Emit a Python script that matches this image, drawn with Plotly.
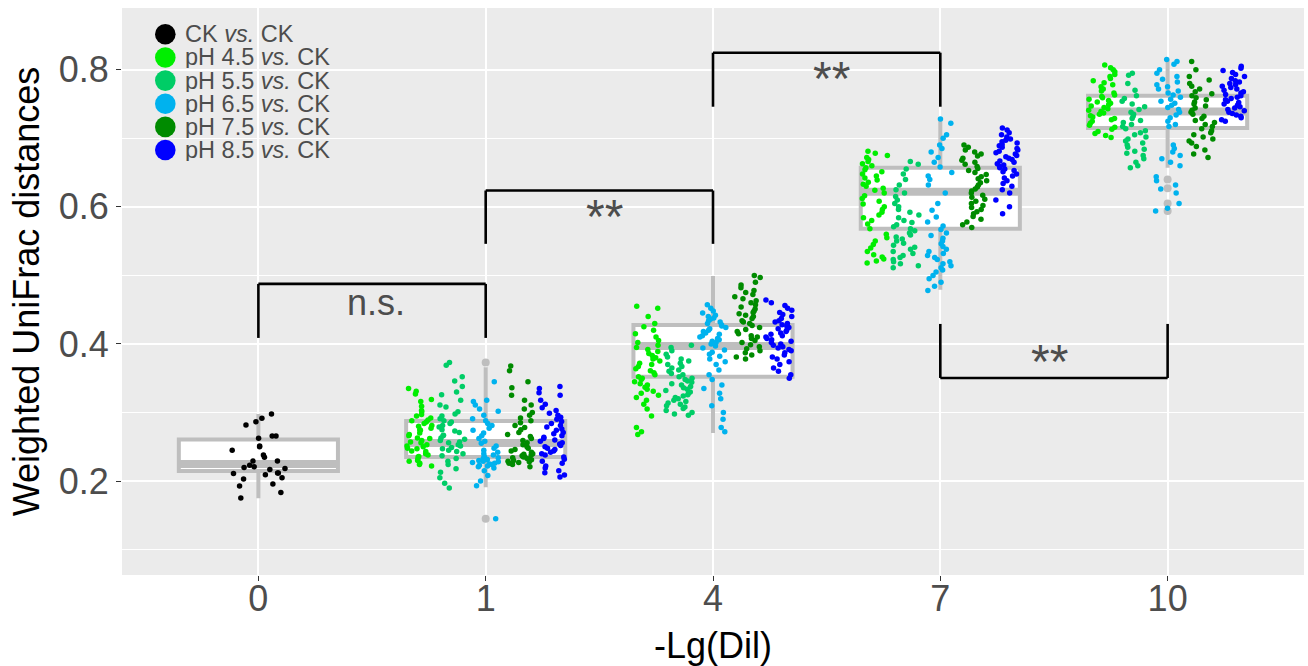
import math
import plotly.graph_objects as go

# ---------------- data ----------------
categories = ["0", "1", "4", "7", "10"]
series_names = ["CK", "pH 4.5", "pH 5.5", "pH 6.5", "pH 7.5", "pH 8.5"]
legend_labels = ["CK <i>vs.</i> CK", "pH 4.5 <i>vs.</i> CK", "pH 5.5 <i>vs.</i> CK",
                 "pH 6.5 <i>vs.</i> CK", "pH 7.5 <i>vs.</i> CK", "pH 8.5 <i>vs.</i> CK"]
colors = ["#000000", "#00EE00", "#00CD66", "#00B2EE", "#008B00", "#0000FF"]
x_title = "-Lg(Dil)"
y_title = "Weighted UniFrac distances"

# CK vs CK at dilution 0
ck_d0 = [0.298, 0.2915, 0.2866, 0.2818, 0.2657, 0.2657, 0.2623, 0.2511, 0.2501, 0.2448,
         0.238, 0.2346, 0.2292, 0.2292, 0.2229, 0.2209, 0.2199, 0.2185, 0.217, 0.2117,
         0.2117, 0.2112, 0.2093, 0.2049, 0.2029, 0.1956, 0.1927, 0.1834, 0.1752]

# dilution 1
ph45_d1 = [0.335, 0.331, 0.327, 0.319, 0.316, 0.309, 0.303, 0.301, 0.297, 0.295, 0.292, 0.289,
           0.288, 0.286, 0.284, 0.281, 0.280, 0.277, 0.275, 0.274, 0.270, 0.268, 0.266, 0.263,
           0.262, 0.259, 0.257, 0.256, 0.253, 0.251, 0.250, 0.248, 0.247, 0.244, 0.243, 0.240,
           0.238, 0.236, 0.235, 0.232, 0.230, 0.229, 0.226, 0.224, 0.222]
ph55_d1 = [0.373, 0.369, 0.352, 0.346, 0.338, 0.330, 0.326, 0.318, 0.311, 0.308, 0.301, 0.298,
           0.295, 0.291, 0.288, 0.286, 0.284, 0.281, 0.279, 0.275, 0.273, 0.271, 0.267, 0.266,
           0.263, 0.261, 0.259, 0.257, 0.256, 0.253, 0.251, 0.249, 0.247, 0.245, 0.243, 0.240,
           0.237, 0.233, 0.229, 0.224, 0.218, 0.213, 0.205, 0.197, 0.190]
ph65_d1 = [0.345, 0.318, 0.316, 0.311, 0.305, 0.302, 0.296, 0.291, 0.288, 0.284, 0.281, 0.277,
           0.274, 0.270, 0.266, 0.262, 0.258, 0.255, 0.251, 0.248, 0.245, 0.242, 0.240, 0.238,
           0.236, 0.234, 0.233, 0.232, 0.231, 0.230, 0.229, 0.228, 0.227, 0.226, 0.225, 0.224,
           0.223, 0.222, 0.221, 0.219, 0.215, 0.208, 0.200, 0.193, 0.145]
ph75_d1 = [0.368, 0.361, 0.345, 0.336, 0.325, 0.318, 0.311, 0.305, 0.300, 0.296, 0.292, 0.288,
           0.285, 0.281, 0.278, 0.275, 0.271, 0.268, 0.265, 0.262, 0.259, 0.256, 0.253, 0.250,
           0.248, 0.246, 0.244, 0.242, 0.240, 0.239, 0.238, 0.237, 0.236, 0.235, 0.234, 0.233,
           0.232, 0.231, 0.230, 0.229, 0.228, 0.227, 0.226, 0.224, 0.221]
ph85_d1 = [0.338, 0.335, 0.329, 0.325, 0.318, 0.312, 0.307, 0.303, 0.299, 0.296, 0.293, 0.290,
           0.287, 0.284, 0.281, 0.279, 0.276, 0.274, 0.271, 0.269, 0.266, 0.264, 0.262, 0.260,
           0.258, 0.256, 0.254, 0.252, 0.250, 0.248, 0.246, 0.244, 0.242, 0.240, 0.238, 0.235,
           0.232, 0.229, 0.226, 0.222, 0.219, 0.215, 0.212, 0.209, 0.206]

# dilution 4
ph45_d4 = [0.455, 0.452, 0.440, 0.430, 0.425, 0.420, 0.415, 0.410, 0.405, 0.402, 0.398, 0.395,
           0.392, 0.389, 0.386, 0.383, 0.380, 0.378, 0.375, 0.372, 0.370, 0.367, 0.364, 0.361,
           0.358, 0.355, 0.352, 0.350, 0.348, 0.345, 0.342, 0.340, 0.337, 0.334, 0.331, 0.328,
           0.325, 0.322, 0.318, 0.312, 0.305, 0.295, 0.278, 0.272, 0.268]
ph55_d4 = [0.398, 0.395, 0.390, 0.385, 0.381, 0.378, 0.375, 0.372, 0.370, 0.367, 0.365, 0.362,
           0.360, 0.357, 0.355, 0.352, 0.350, 0.348, 0.346, 0.344, 0.342, 0.340, 0.338, 0.336,
           0.334, 0.332, 0.330, 0.328, 0.326, 0.324, 0.322, 0.320, 0.318, 0.316, 0.314, 0.312,
           0.310, 0.308, 0.306, 0.303, 0.300, 0.298, 0.296]
ph65_d4 = [0.457, 0.452, 0.448, 0.445, 0.442, 0.440, 0.438, 0.436, 0.434, 0.432, 0.430, 0.428,
           0.426, 0.424, 0.422, 0.420, 0.418, 0.416, 0.414, 0.412, 0.410, 0.408, 0.406, 0.404,
           0.402, 0.400, 0.397, 0.394, 0.391, 0.388, 0.385, 0.382, 0.378, 0.374, 0.370, 0.362,
           0.355, 0.348, 0.340, 0.335, 0.328, 0.320, 0.310, 0.300, 0.290, 0.278, 0.272]
ph75_d4 = [0.500, 0.497, 0.490, 0.486, 0.482, 0.478, 0.475, 0.472, 0.469, 0.466, 0.463, 0.460,
           0.457, 0.454, 0.451, 0.448, 0.446, 0.444, 0.442, 0.440, 0.437, 0.434, 0.432, 0.430,
           0.427, 0.424, 0.421, 0.418, 0.415, 0.412, 0.410, 0.408, 0.405, 0.402, 0.399, 0.396,
           0.393, 0.390, 0.387, 0.384, 0.381, 0.378]
ph85_d4 = [0.464, 0.460, 0.456, 0.452, 0.449, 0.446, 0.443, 0.440, 0.437, 0.434, 0.432, 0.430,
           0.428, 0.426, 0.424, 0.422, 0.420, 0.418, 0.416, 0.414, 0.412, 0.410, 0.408, 0.406,
           0.404, 0.402, 0.400, 0.398, 0.396, 0.394, 0.392, 0.390, 0.387, 0.384, 0.381, 0.378,
           0.374, 0.370, 0.365, 0.360, 0.355, 0.350]

# dilution 7
ph45_d7 = [0.681, 0.678, 0.675, 0.672, 0.669, 0.666, 0.663, 0.660, 0.657, 0.654, 0.651, 0.648,
           0.645, 0.642, 0.639, 0.636, 0.633, 0.630, 0.627, 0.624, 0.620, 0.616, 0.612, 0.608,
           0.604, 0.600, 0.596, 0.592, 0.588, 0.584, 0.580, 0.575, 0.568, 0.560, 0.555, 0.550,
           0.545, 0.540, 0.535, 0.530, 0.527, 0.524, 0.521, 0.518]
ph55_d7 = [0.666, 0.662, 0.655, 0.648, 0.640, 0.632, 0.625, 0.620, 0.615, 0.610, 0.605, 0.600,
           0.596, 0.592, 0.588, 0.584, 0.580, 0.577, 0.574, 0.571, 0.568, 0.565, 0.562, 0.559,
           0.556, 0.553, 0.550, 0.547, 0.544, 0.541, 0.538, 0.535, 0.532, 0.529, 0.526, 0.523,
           0.520, 0.517, 0.514, 0.511]
ph65_d7 = [0.728, 0.722, 0.705, 0.700, 0.690, 0.685, 0.680, 0.672, 0.665, 0.658, 0.650, 0.645,
           0.640, 0.632, 0.620, 0.605, 0.595, 0.585, 0.578, 0.572, 0.567, 0.562, 0.558, 0.554,
           0.550, 0.546, 0.542, 0.538, 0.535, 0.532, 0.529, 0.526, 0.523, 0.520, 0.517, 0.514,
           0.511, 0.508, 0.505, 0.500, 0.495, 0.490, 0.484, 0.478]
ph75_d7 = [0.690, 0.687, 0.683, 0.680, 0.677, 0.674, 0.671, 0.668, 0.665, 0.662, 0.659, 0.656,
           0.653, 0.650, 0.647, 0.644, 0.641, 0.638, 0.635, 0.632, 0.629, 0.626, 0.623, 0.620,
           0.617, 0.614, 0.611, 0.608, 0.605, 0.602, 0.599, 0.596, 0.593, 0.590, 0.586, 0.582,
           0.578, 0.574, 0.570]
ph85_d7 = [0.715, 0.712, 0.708, 0.705, 0.702, 0.699, 0.697, 0.695, 0.693, 0.691, 0.689, 0.687,
           0.685, 0.683, 0.681, 0.679, 0.677, 0.675, 0.673, 0.671, 0.669, 0.667, 0.665, 0.663,
           0.661, 0.659, 0.657, 0.655, 0.653, 0.651, 0.648, 0.645, 0.642, 0.638, 0.634, 0.630,
           0.625, 0.620, 0.610, 0.600, 0.590]

# dilution 10
ph45_d10 = [0.807, 0.803, 0.800, 0.797, 0.793, 0.790, 0.787, 0.784, 0.781, 0.778, 0.775, 0.772,
            0.769, 0.766, 0.763, 0.761, 0.759, 0.757, 0.755, 0.753, 0.751, 0.749, 0.747, 0.745,
            0.743, 0.741, 0.739, 0.737, 0.735, 0.733, 0.731, 0.729, 0.727, 0.725, 0.722, 0.719,
            0.716, 0.713, 0.710, 0.707, 0.704, 0.701]
ph55_d10 = [0.795, 0.792, 0.780, 0.770, 0.762, 0.758, 0.754, 0.750, 0.746, 0.742, 0.738, 0.735,
            0.732, 0.729, 0.726, 0.723, 0.720, 0.717, 0.714, 0.711, 0.708, 0.705, 0.702, 0.699,
            0.696, 0.693, 0.690, 0.687, 0.684, 0.681, 0.678, 0.675, 0.670, 0.665, 0.660, 0.657]
ph65_d10 = [0.815, 0.812, 0.808, 0.800, 0.795, 0.790, 0.786, 0.782, 0.778, 0.775, 0.772, 0.769,
            0.766, 0.763, 0.760, 0.757, 0.754, 0.751, 0.748, 0.745, 0.742, 0.738, 0.734, 0.730,
            0.725, 0.720, 0.717, 0.690, 0.685, 0.680, 0.675, 0.670, 0.665, 0.660, 0.644, 0.638,
            0.632, 0.626, 0.620, 0.605, 0.598, 0.594]
ph75_d10 = [0.812, 0.800, 0.790, 0.785, 0.780, 0.776, 0.772, 0.768, 0.765, 0.762, 0.759, 0.756,
            0.753, 0.750, 0.747, 0.744, 0.741, 0.738, 0.735, 0.732, 0.729, 0.726, 0.723, 0.720,
            0.717, 0.714, 0.711, 0.708, 0.705, 0.702, 0.699, 0.696, 0.693, 0.688, 0.683, 0.677,
            0.672]
ph85_d10 = [0.805, 0.802, 0.799, 0.796, 0.793, 0.790, 0.787, 0.784, 0.782, 0.780, 0.778, 0.776,
            0.774, 0.772, 0.770, 0.768, 0.766, 0.764, 0.762, 0.760, 0.758, 0.756, 0.754, 0.752,
            0.750, 0.748, 0.746, 0.744, 0.742, 0.740, 0.738, 0.736, 0.734, 0.732, 0.730, 0.727,
            0.725]

# box statistics per dilution (all comparisons pooled)
box_q1 = [0.2146, 0.235, 0.352, 0.568, 0.715]
box_median = [0.2248, 0.2555, 0.397, 0.622, 0.739]
box_q3 = [0.2608, 0.2876, 0.4277, 0.657, 0.762]
box_lower = [0.175, 0.191, 0.270, 0.479, 0.657]
box_upper = [0.2978, 0.366, 0.499, 0.730, 0.815]
outlier_cat = ["1", "1", "10", "10", "10", "10"]
outlier_y = [0.373, 0.145, 0.640, 0.627, 0.605, 0.594]

# significance comparisons
sig_from = ["0", "1", "4", "7"]
sig_to = ["1", "4", "7", "10"]
sig_bar = [0.4876, 0.6238, 0.8248, 0.3504]
sig_leg_end = [0.4088, 0.546, 0.746, 0.4292]
sig_labels = ["n.s.", "**", "**", "**"]

# ---------------- assembly ----------------
series_by_cat = {
    "0": {"CK": ck_d0},
    "1": {"pH 4.5": ph45_d1, "pH 5.5": ph55_d1, "pH 6.5": ph65_d1, "pH 7.5": ph75_d1, "pH 8.5": ph85_d1},
    "4": {"pH 4.5": ph45_d4, "pH 5.5": ph55_d4, "pH 6.5": ph65_d4, "pH 7.5": ph75_d4, "pH 8.5": ph85_d4},
    "7": {"pH 4.5": ph45_d7, "pH 5.5": ph55_d7, "pH 6.5": ph65_d7, "pH 7.5": ph75_d7, "pH 8.5": ph85_d7},
    "10": {"pH 4.5": ph45_d10, "pH 5.5": ph55_d10, "pH 6.5": ph65_d10, "pH 7.5": ph75_d10, "pH 8.5": ph85_d10},
}

pos = {c: i + 1 for i, c in enumerate(categories)}
dodge = {"CK": 0.0, "pH 4.5": -0.29, "pH 5.5": -0.15, "pH 6.5": 0.0, "pH 7.5": 0.15, "pH 8.5": 0.29}
jit_width = {"CK": 0.12}
color_of = dict(zip(series_names, colors))


def jitter(n, width, salt):
    out = []
    for i in range(n):
        v = math.sin((i + 1) * 12.9898 + salt * 78.233) * 43758.5453
        out.append((v - math.floor(v) - 0.5) * 2 * width)
    return out


BOX_GREY = "#BEBEBE"
FONT = "Liberation Sans, Arial, sans-serif"

fig = go.Figure()

xs = [pos[c] for c in categories]
fig.add_trace(go.Box(
    x=xs, q1=box_q1, median=box_median, q3=box_q3,
    lowerfence=box_lower, upperfence=box_upper,
    width=0.7, whiskerwidth=0, fillcolor="white",
    line=dict(color=BOX_GREY, width=4), boxpoints=False,
    showlegend=False, hoverinfo="skip"))

# thicker median bars (ggplot style)
mx, my = [], []
for x, m in zip(xs, box_median):
    mx += [x - 0.35, x + 0.35, None]
    my += [m, m, None]
fig.add_trace(go.Scatter(x=mx, y=my, mode="lines", line=dict(color=BOX_GREY, width=8),
                         showlegend=False, hoverinfo="skip"))

fig.add_trace(go.Scatter(x=[pos[c] for c in outlier_cat], y=outlier_y, mode="markers",
                         marker=dict(color=BOX_GREY, size=8), showlegend=False, hoverinfo="skip"))

salt = 0
for c in categories:
    for s, vals in series_by_cat[c].items():
        salt += 1
        jw = jit_width.get(s, 0.058)
        offs = jitter(len(vals), jw, salt)
        fig.add_trace(go.Scatter(
            x=[pos[c] + dodge[s] + o for o in offs], y=vals, mode="markers",
            marker=dict(color=color_of[s], size=5.5, line=dict(width=0)),
            name=s, showlegend=False, hoverinfo="skip"))

shapes = []
for a, b, bar, leg in zip(sig_from, sig_to, sig_bar, sig_leg_end):
    xa, xb = pos[a], pos[b]
    for (x0, y0, x1, y1) in [(xa, leg, xa, bar), (xa, bar, xb, bar), (xb, bar, xb, leg)]:
        shapes.append(dict(type="line", xref="x", yref="y", x0=x0, y0=y0, x1=x1, y1=y1,
                           line=dict(color="black", width=2.6)))

annotations = []
label_pos = [(1.516, 0.460, 36), (2.521, 0.586, 48), (3.523, 0.787, 48), (4.48, 0.374, 48)]
for lab, (lx, ly, fs) in zip(sig_labels, label_pos):
    annotations.append(dict(x=lx, y=ly, xref="x", yref="y", text=lab, showarrow=False,
                            font=dict(family=FONT, size=fs, color="#4D4D4D"),
                            xanchor="center", yanchor="middle"))

# custom legend (inside panel, top-left)
L, T, W, H = 122, 8, 1182, 567
for i, (lab, col) in enumerate(zip(legend_labels, colors)):
    cy = 34.3 + i * 23.15
    py = 1 - (cy - T) / H
    shapes.append(dict(type="circle", xref="paper", yref="paper",
                       xsizemode="pixel", ysizemode="pixel",
                       xanchor=(165.3 - L) / W, yanchor=py,
                       x0=-10.3, x1=10.3, y0=-10.3, y1=10.3,
                       fillcolor=col, line=dict(width=0)))
    annotations.append(dict(x=(182.5 - L) / W, y=py, xref="paper", yref="paper", text=lab,
                            showarrow=False, xanchor="left", yanchor="middle", height=22,
                            font=dict(family=FONT, size=23.5, color="#4D4D4D")))

# x-axis title placed below the tick labels
annotations.append(dict(x=0.5, y=1 - (645 - T) / H, xref="paper", yref="paper", text=x_title,
                        showarrow=False, xanchor="center", yanchor="middle",
                        font=dict(family=FONT, size=36, color="black")))

fig.update_layout(
    width=1308, height=666,
    margin=dict(l=L, r=1308 - L - W, t=T, b=666 - T - H),
    paper_bgcolor="white", plot_bgcolor="#EBEBEB",
    shapes=shapes, annotations=annotations, showlegend=False,
    font=dict(family=FONT),
)
fig.update_xaxes(
    range=[0.4, 5.6], tickvals=xs, ticktext=categories,
    showgrid=True, gridcolor="white", gridwidth=1.8, zeroline=False,
    ticks="outside", ticklen=5, tickcolor="#333333", tickwidth=1.2,
    ticklabelstandoff=-13,
    tickfont=dict(family=FONT, size=36, color="#4D4D4D"),
    showline=False,
)
fig.update_yaxes(
    range=[0.063, 0.890], tickvals=[0.2, 0.4, 0.6, 0.8], ticktext=["0.2", "0.4", "0.6", "0.8"],
    showgrid=True, gridcolor="white", gridwidth=1.8, zeroline=False,
    minor=dict(tickvals=[0.1, 0.3, 0.5, 0.7], showgrid=True, gridcolor="white", gridwidth=0.9, ticks=""),
    ticks="outside", ticklen=5, tickcolor="#333333", tickwidth=1.2,
    tickfont=dict(family=FONT, size=36, color="#4D4D4D"),
    title=dict(text=y_title, font=dict(family=FONT, size=36, color="black"), standoff=8),
    showline=False,
)

fig.write_html("out.html")
